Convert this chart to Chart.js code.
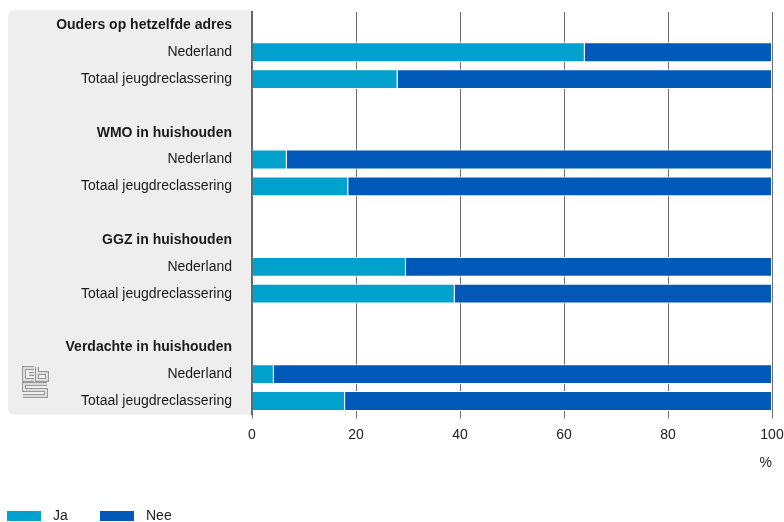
<!DOCTYPE html>
<html>
<head>
<meta charset="utf-8">
<script src="https://cdn.jsdelivr.net/npm/chart.js@4.4.1/dist/chart.umd.min.js"></script>
<style>
  body { margin: 0; background: #fff; }
  #wrap { position: relative; width: 784px; height: 522px; }
  #legend { position: absolute; left: 7px; top: 507px; font: 14px 'Liberation Sans', Arial, sans-serif; color: #222; }
  #legend span.item { position: absolute; white-space: nowrap; }
  #legend i { display: inline-block; width: 34px; height: 10px; vertical-align: middle; margin-right: 12px; }
</style>
</head>
<body>
<div id="wrap">
  <canvas id="chart"></canvas>
  <div id="legend"></div>
</div>
<script>
// --- Datos ---
const rowLabels = [
  'Ouders op hetzelfde adres', 'Nederland', 'Totaal jeugdreclassering', '',
  'WMO in huishouden', 'Nederland', 'Totaal jeugdreclassering', '',
  'GGZ in huishouden', 'Nederland', 'Totaal jeugdreclassering', '',
  'Verdachte in huishouden', 'Nederland', 'Totaal jeugdreclassering'
];
const headerRows = [0, 4, 8, 12];
const jaValues  = [null, 64, 28, null, null, 6.7, 18.5, null, null, 29.6, 39, null, null, 4.2, 17.9];
const neeValues = [null, 36, 72, null, null, 93.3, 81.5, null, null, 70.4, 61, null, null, 95.8, 82.1];
const xTicks = [0, 20, 40, 60, 80, 100];

const seriesNames = ['Ja', 'Nee'];
const seriesColors = ['#00a1cd', '#0058b8'];
const FONT = "'Liberation Sans', Arial, sans-serif";

// --- Panel gris + logo ---
const panelPlugin = {
  id: 'panel',
  beforeDraw(chart) {
    const ctx = chart.ctx;
    const a = chart.chartArea;
    const x0 = 8, y0 = 10, x1 = a.left, y1 = a.bottom, r = 7;
    ctx.save();
    ctx.fillStyle = '#eeeeee';
    ctx.beginPath();
    ctx.moveTo(x1, y0);
    ctx.lineTo(x0 + r, y0);
    ctx.quadraticCurveTo(x0, y0, x0, y0 + r);
    ctx.lineTo(x0, y1 - r);
    ctx.quadraticCurveTo(x0, y1, x0 + r, y1);
    ctx.lineTo(x1, y1);
    ctx.closePath();
    ctx.fill();

    // logo cbs
    const lx = 23, ly = 367;
    const path = () => {
      ctx.beginPath();
      // c
      ctx.moveTo(lx + 11, ly + 1);
      ctx.lineTo(lx + 1, ly + 1);
      ctx.lineTo(lx + 1, ly + 13);
      ctx.lineTo(lx + 11, ly + 13);
      ctx.moveTo(lx + 11, ly + 7);
      ctx.lineTo(lx + 6, ly + 7);
      // b
      ctx.moveTo(lx + 14, ly);
      ctx.lineTo(lx + 14, ly + 13);
      ctx.lineTo(lx + 24, ly + 13);
      ctx.lineTo(lx + 24, ly + 6);
      ctx.lineTo(lx + 14, ly + 6);
      // s
      ctx.moveTo(lx + 24, ly + 17);
      ctx.lineTo(lx + 1, ly + 17);
      ctx.lineTo(lx + 1, ly + 23);
      ctx.lineTo(lx + 23, ly + 23);
      ctx.lineTo(lx + 23, ly + 29);
      ctx.lineTo(lx, ly + 29);
    };
    ctx.lineJoin = 'miter';
    path();
    ctx.strokeStyle = '#9a9a9a';
    ctx.lineWidth = 4;
    ctx.stroke();
    path();
    ctx.strokeStyle = '#eeeeee';
    ctx.lineWidth = 1.6;
    ctx.stroke();
    ctx.restore();
  }
};

const ctx = document.getElementById('chart').getContext('2d');
const chart = new Chart(ctx, {
  type: 'bar',
  data: {
    labels: rowLabels,
    datasets: [
      { label: seriesNames[0], data: jaValues, backgroundColor: seriesColors[0] },
      { label: seriesNames[1], data: neeValues, backgroundColor: seriesColors[1] }
    ].map(d => Object.assign(d, {
      borderColor: '#ffffff', borderWidth: 1, borderSkipped: 'start',
      barPercentage: 0.78, categoryPercentage: 0.95
    }))
  },
  options: {
    indexAxis: 'y',
    responsive: true,
    maintainAspectRatio: false,
    animation: false,
    layout: { padding: { left: 8, right: 12, top: 12, bottom: 50 } },
    plugins: {
      legend: { display: false },
      tooltip: { enabled: false }
    },
    scales: {
      x: {
        stacked: true,
        min: 0, max: 100,
        afterBuildTicks(scale) { scale.ticks = xTicks.map(v => ({ value: v })); },
        afterFit(scale) { scale.paddingLeft = 0; scale.paddingRight = 0; },
        grid: { color: '#6f6f6f', lineWidth: 1, drawTicks: true, tickLength: 4 },
        border: { display: false },
        ticks: { color: '#222', padding: 8, maxRotation: 0, font: { family: FONT, size: 14 } },
        title: { display: true, text: '%', align: 'end', color: '#222',
                 padding: { top: 4, bottom: 0 }, font: { family: FONT, size: 14 } }
      },
      y: {
        stacked: true,
        afterFit(scale) { scale.width = 244; scale.paddingTop = 0; scale.paddingBottom = 0; },
        grid: { display: false },
        border: { display: true, color: '#666666', width: 2 },
        ticks: {
          color: '#1a1a1a',
          padding: 12,
          autoSkip: false,
          font: c => ({ family: FONT, size: 14, weight: headerRows.includes(c.index) ? 'bold' : 'normal' })
        }
      }
    }
  },
  plugins: [panelPlugin]
});

// --- Leyenda ---
const legend = document.getElementById('legend');
const legendX = [0, 93];
seriesNames.forEach((name, i) => {
  const s = document.createElement('span');
  s.className = 'item';
  s.style.left = legendX[i] + 'px';
  s.innerHTML = '<i style="background:' + seriesColors[i] + '"></i>' + name;
  legend.appendChild(s);
});
</script>
</body>
</html>
